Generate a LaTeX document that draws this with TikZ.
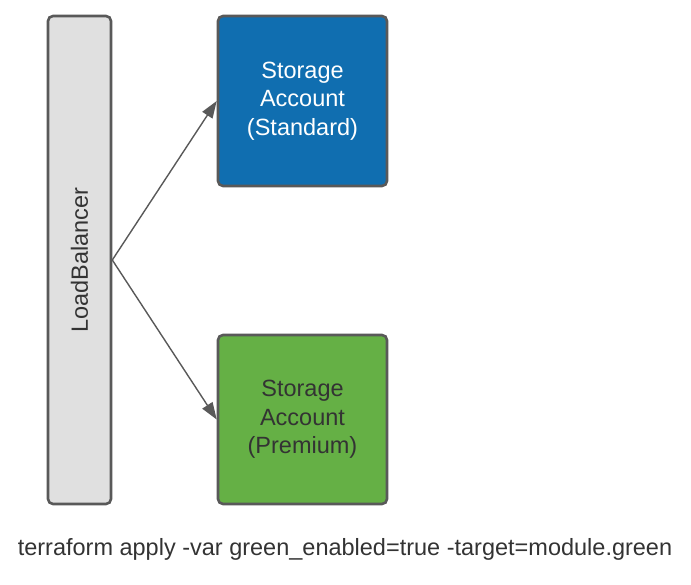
\documentclass[tikz,border=0pt]{standalone}
\usepackage{fontspec}
\setmainfont{Liberation Sans}
\usetikzlibrary{arrows.meta,positioning}
\definecolor{edgegray}{HTML}{595959}
\definecolor{lbgray}{HTML}{E0E0E0}
\definecolor{stdblue}{HTML}{106EB0}
\definecolor{premgreen}{HTML}{65B045}
\definecolor{txtdark}{HTML}{333333}

\begin{document}
\begin{tikzpicture}[x=1pt,y=1pt,
    box/.style={draw=edgegray,line width=2.6pt,rounded corners=5pt,inner sep=0pt,align=center,font=\fontsize{23.5}{28.5}\selectfont},
    link/.style={-{Triangle[length=17pt,width=12pt]},draw=edgegray,line width=1.4pt}]

    \useasboundingbox (0,0) rectangle (691,584);

    % The boxes
	\node [box,fill=lbgray,minimum width=63pt,minimum height=488pt] at (79.5,324) (lb) {};
	\node [rotate=90,text=txtdark,font=\fontsize{23.5}{28}\selectfont] at (lb.center) (lbtext) {LoadBalancer};
	\node [box,fill=stdblue,text=white,minimum width=169pt,minimum height=170pt] at (302.5,483) (std) {Storage\\Account\\(Standard)};
	\node [box,fill=premgreen,text=txtdark,minimum width=169pt,minimum height=169pt] at (302.5,164.5) (prem) {Storage\\Account\\(Premium)};

	% Command
	\node [text=txtdark,font=\fontsize{23.5}{28}\selectfont] at (345,35) (cmd) {terraform apply -var green\_enabled=true -target=module.green};

	% Edges
	\path
	(lb.east) edge[link] (std.west)
	(lb.east) edge[link] (prem.west);

\end{tikzpicture}
\end{document}
